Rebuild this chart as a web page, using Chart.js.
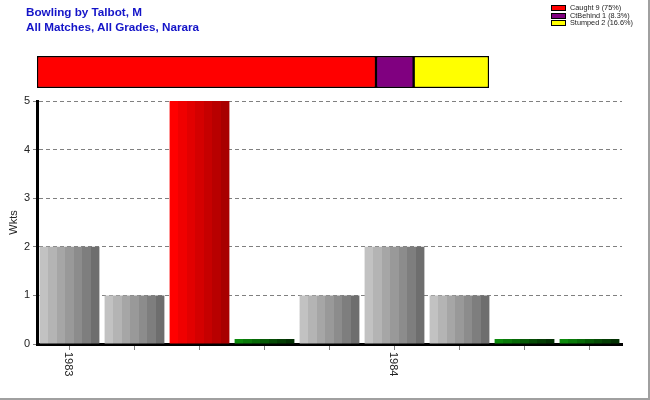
<!DOCTYPE html>
<html>
<head>
<meta charset="utf-8">
<script src="https://cdn.jsdelivr.net/npm/chart.js@4"></script>
<style>
  body { margin: 0; background: #fff; }
  #wrap { position: relative; width: 650px; height: 400px; box-sizing: border-box;
          border-right: 2px solid #a0a0a0; border-bottom: 2px solid #a0a0a0; }
  #main { position: absolute; left: 0; top: 0; width: 650px; height: 400px; }
  #strip { position: absolute; left: 37px; top: 56px; width: 452px; height: 32px; }
  #title { position: absolute; left: 26px; top: 4px; font: bold 11.7px "Liberation Sans", Arial, sans-serif;
           color: #1414c8; line-height: 15px; }
  #legend { position: absolute; left: 551px; top: 4px; font: 7.3px "Liberation Sans", Arial, sans-serif; color: #222; }
  #legend div { height: 7.6px; line-height: 7.6px; white-space: nowrap; }
  #legend span { display: inline-block; width: 13px; height: 4px; border: 1px solid #000; margin-right: 4px; vertical-align: middle; }
</style>
</head>
<body>
<div id="wrap">
  <div id="main"><canvas id="barChart"></canvas></div>
  <div id="strip"><canvas id="stripChart"></canvas></div>
  <div id="title">Bowling by Talbot, M<br>All Matches, All Grades, Narara</div>
  <div id="legend"></div>
</div>
<script>
// wickets per match
var years = ['1983', '', '', '', '', '1984', '', '', ''];
var wickets = [2, 1, 5, 0, 1, 2, 1, 0, 0];

// dismissal breakdown
var dismissalNames = ['Caught', 'CtBehind', 'Stumped'];
var dismissalCounts = [9, 1, 2];
var dismissalPct = ['75%', '8.3%', '16.6%'];

var dismissalColors = ['#ff0000', '#800080', '#ffff00'];
var barStyle = ['grey', 'grey', 'red', 'green', 'grey', 'grey', 'grey', 'green', 'green'];
var palettes = {
  grey: ['#c2c2c2', '#b4b4b4', '#a6a6a6', '#999999', '#8c8c8c', '#7e7e7e', '#6e6e6e'],
  red: ['#ff0000', '#f00000', '#e20000', '#d40000', '#c60000', '#b80000', '#a80000'],
  green: ['#0c8a0c', '#0a7a0a', '#086a08', '#065a06', '#054b05', '#043d04', '#033003']
};

function stripes(ctx, x0, x1, colors) {
  var g = ctx.createLinearGradient(x0, 0, x1, 0);
  var n = colors.length;
  colors.forEach(function(c, i) {
    g.addColorStop(i / n, c);
    g.addColorStop((i + 1) / n, c);
  });
  return g;
}

var legendBox = document.getElementById('legend');
dismissalNames.forEach(function(name, i) {
  var row = document.createElement('div');
  row.innerHTML = '<span style="background:' + dismissalColors[i] + '"></span>' +
    name + ' ' + dismissalCounts[i] + ' (' + dismissalPct[i] + ')';
  legendBox.appendChild(row);
});

var xLabels = {
  id: 'xLabels',
  afterDraw: function(chart) {
    var xs = chart.scales.x;
    var c = chart.ctx;
    c.save();
    c.font = '11px "Liberation Sans", Arial, sans-serif';
    c.fillStyle = '#222';
    c.textAlign = 'left';
    c.textBaseline = 'middle';
    years.forEach(function(y, i) {
      if (!y) return;
      c.save();
      c.translate(xs.getPixelForTick(i) - 1, xs.top + 8);
      c.rotate(Math.PI / 2);
      c.fillText(y, 0, 0);
      c.restore();
    });
    c.restore();
  }
};

new Chart(document.getElementById('barChart'), {
  type: 'bar',
  data: {
    labels: years,
    datasets: [{
      label: 'Wkts',
      data: wickets,
      barPercentage: 0.92,
      categoryPercentage: 1,
      minBarLength: 5,
      borderWidth: 0,
      backgroundColor: function(c) {
        var chart = c.chart;
        var xs = chart.scales.x;
        if (!chart.chartArea || !xs) return '#999';
        var center = xs.getPixelForValue(c.dataIndex);
        var half = xs.width / years.length * 0.92 / 2;
        return stripes(chart.ctx, center - half, center + half, palettes[barStyle[c.dataIndex]]);
      }
    }]
  },
  options: {
    responsive: true,
    maintainAspectRatio: false,
    animation: false,
    layout: { padding: { top: 101, right: 28, left: 0, bottom: 0 } },
    plugins: { legend: { display: false }, tooltip: { enabled: false } },
    scales: {
      x: {
        offset: true,
        grid: { display: true, drawOnChartArea: false, drawTicks: true, tickLength: 6, color: '#808080', offset: false },
        border: { color: '#000', width: 3 },
        ticks: { display: false, autoSkip: false },
        afterFit: function(s) { s.height = 56; }
      },
      y: {
        min: 0,
        max: 5,
        ticks: { stepSize: 1, color: '#222', padding: 3, font: { size: 11, family: '"Liberation Sans", Arial, sans-serif' } },
        grid: { color: '#808080', tickLength: 4 },
        border: { color: '#000', width: 3, dash: [4, 3] },
        title: { display: true, text: 'Wkts', color: '#222', padding: { top: 7, bottom: 0 },
                 font: { size: 11, family: '"Liberation Sans", Arial, sans-serif' } },
        afterFit: function(s) { s.width = 37; }
      }
    }
  },
  plugins: [xLabels]
});

var stripSets = dismissalNames.map(function(name, i) {
  return {
    label: name,
    data: [dismissalCounts[i]],
    backgroundColor: dismissalColors[i],
    borderColor: '#000',
    borderWidth: 1.5,
    borderSkipped: false,
    barPercentage: 1,
    categoryPercentage: 1
  };
});

new Chart(document.getElementById('stripChart'), {
  type: 'bar',
  data: { labels: [''], datasets: stripSets },
  options: {
    indexAxis: 'y',
    responsive: true,
    maintainAspectRatio: false,
    animation: false,
    layout: { padding: 0 },
    plugins: { legend: { display: false }, tooltip: { enabled: false } },
    scales: {
      x: { stacked: true, min: 0, max: 12, display: false },
      y: { stacked: true, display: false }
    }
  }
});
</script>
</body>
</html>
